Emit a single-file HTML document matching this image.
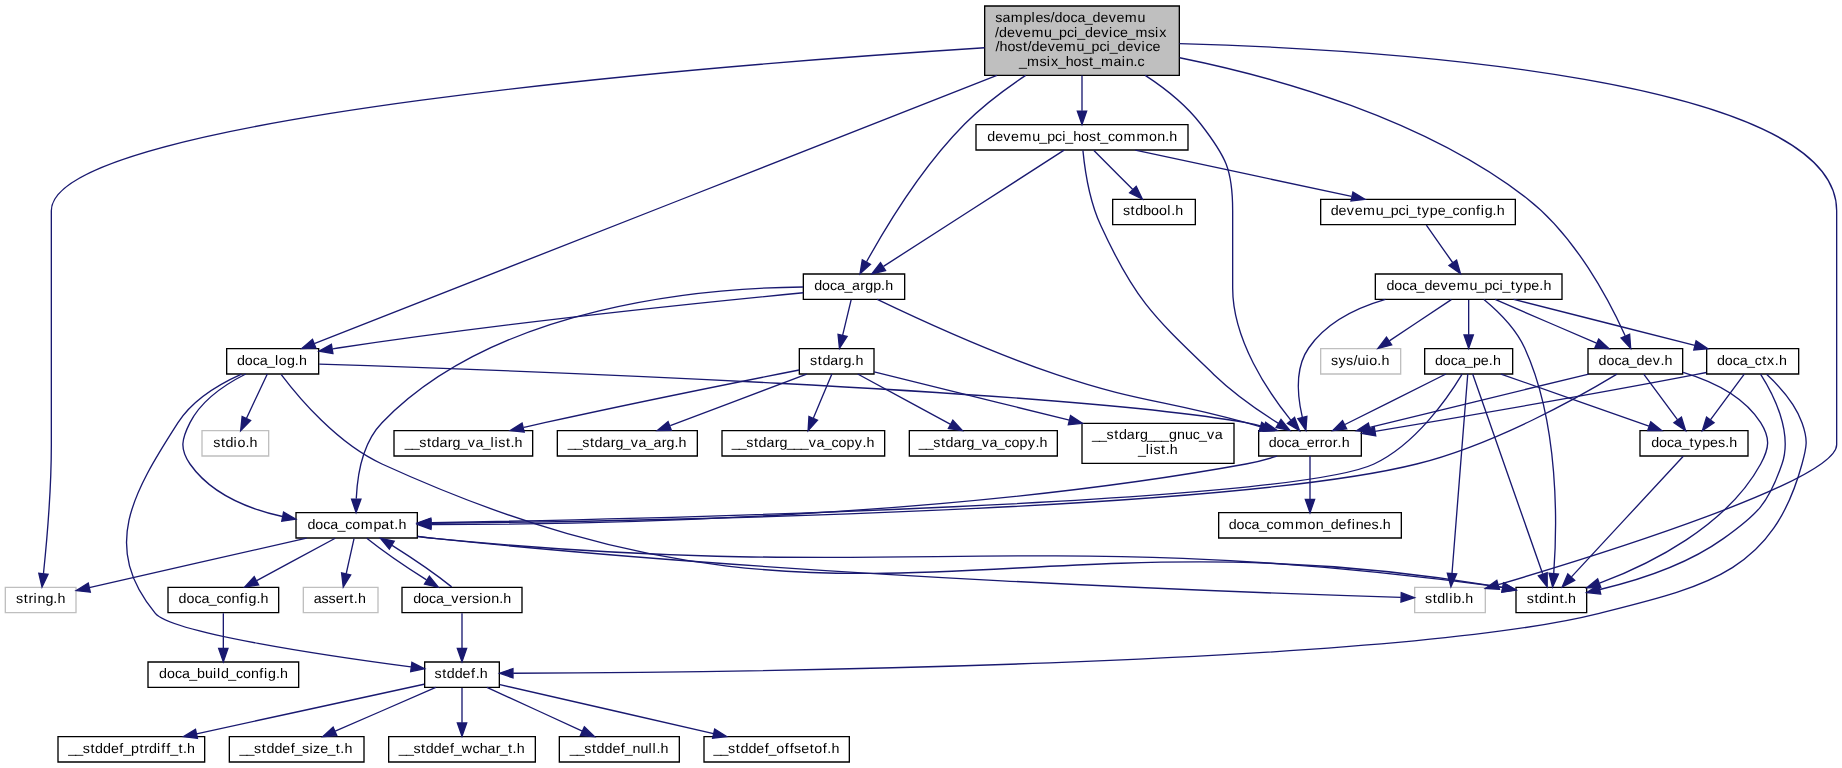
<!DOCTYPE html>
<html><head><meta charset="utf-8"><title>Include dependency graph</title>
<style>
html,body{margin:0;padding:0;background:#fff;}
body{width:1842px;height:768px;overflow:hidden;}
svg{display:block;will-change:transform;}
text{font-family:"Liberation Sans",sans-serif;font-size:10.3px;text-rendering:geometricPrecision;fill:#000;}
.e path{fill:none;stroke:#191970;stroke-width:1.0}
.e polygon{fill:#191970;stroke:#191970;stroke-width:1.0}
.n polygon{stroke-width:1.0}
</style></head><body>
<svg width="1842" height="768" viewBox="0 0 1381.5 576">
<rect x="0" y="0" width="1381.5" height="576" fill="#fff"/>
<g transform="translate(4 572)">
<g class="n"><polygon fill="#bfbfbf" stroke="black" points="734.5,-515.5 734.5,-567.5 880.5,-567.5 880.5,-515.5 734.5,-515.5"/><text transform="scale(1.0400 1)" x="713.87 719.07 725.15 734.32 740.10 742.88 748.49 753.79 756.68 762.34 768.10 773.16 778.41 784.08 789.76 795.70 801.30 807.36 816.53" y="-555.50">samples/doca_devemu</text><text transform="scale(1.0400 1)" x="713.77 716.65 722.33 728.27 733.87 739.94 749.10 754.25 759.92 765.57 770.74 773.00 778.67 784.35 790.29 795.98 798.75 803.82 809.05 814.94 823.85 829.16 832.12" y="-544.50">/devemu_pci_device_msix</text><text transform="scale(1.0400 1)" x="714.13 717.01 722.67 728.30 733.87 737.21 740.09 745.77 751.71 757.31 763.37 772.54 777.68 783.36 789.01 794.18 796.43 802.11 807.79 813.73 819.42 822.18 827.26" y="-533.50">/host/devemu_pci_device</text><text transform="scale(1.0400 1)" x="730.93 736.81 745.72 751.03 754.00 759.05 764.73 770.39 776.01 781.58 784.30 790.18 799.24 805.12 808.00 813.68 816.53" y="-522.50">_msix_host_main.c</text></g>
<g class="n"><polygon fill="white" stroke="#bfbfbf" points="1057,-112.5 1057,-131.5 1110,-131.5 1110,-112.5 1057,-112.5"/><text transform="scale(1.0400 1)" x="1023.73 1029.30 1032.64 1038.41 1041.30 1044.18 1049.86 1052.83" y="-119.50">stdlib.h</text></g>
<g class="e"><path d="M880.62,-539.34C1033.63,-534.92 1373.5,-513.87 1373.5,-414 1373.5,-414 1373.5,-414 1373.5,-238.5 1373.5,-211.5 1197.73,-156.54 1119.87,-133.51"/><polygon points="1120.59,-130.07 1110,-130.61 1118.61,-136.79 1120.59,-130.07"/></g>
<g class="n"><polygon fill="white" stroke="#bfbfbf" points="0,-112.5 0,-131.5 53,-131.5 53,-112.5 0,-112.5"/><text transform="scale(1.0400 1)" x="7.74 13.31 16.73 20.26 23.14 28.91 34.59 37.56" y="-119.50">string.h</text></g>
<g class="e"><path d="M734.43,-536.17C541.74,-523.79 34.5,-484.5 34.5,-414 34.5,-414 34.5,-414 34.5,-238.5 34.5,-204.28 30.96,-164.5 28.59,-141.68"/><polygon points="32.07,-141.25 27.51,-131.68 25.11,-142 32.07,-141.25"/></g>
<g class="n"><polygon fill="white" stroke="black" points="598.5,-347.5 598.5,-366.5 674.5,-366.5 674.5,-347.5 598.5,-347.5"/><text transform="scale(1.0400 1)" x="583.36 589.02 594.78 599.84 605.09 610.66 616.61 620.14 625.91 631.59 634.56" y="-354.50">doca_argp.h</text></g>
<g class="e"><path d="M765.26,-515.47C749.9,-505.25 733.02,-492.63 719.5,-479 687.5,-446.72 659.79,-400.66 645.93,-375.71"/><polygon points="648.88,-373.8 641.02,-366.69 642.73,-377.14 648.88,-373.8"/></g>
<g class="n"><polygon fill="white" stroke="black" points="940,-230 940,-249 1017,-249 1017,-230 940,-230"/><text transform="scale(1.0400 1)" x="911.13 916.78 922.54 927.61 932.85 938.44 944.37 947.98 951.40 957.35 960.79 963.76" y="-237.00">doca_error.h</text></g>
<g class="e"><path d="M854.92,-515.45C869.85,-505.71 885.33,-493.39 896.5,-479 915.38,-454.67 920.5,-444.8 920.5,-414 920.5,-414 920.5,-414 920.5,-356 920.5,-317.15 947.03,-278.02 964.21,-256.76"/><polygon points="966.94,-258.95 970.68,-249.03 961.57,-254.45 966.94,-258.95"/></g>
<g class="n"><polygon fill="white" stroke="black" points="166,-291.5 166,-310.5 235,-310.5 235,-291.5 166,-291.5"/><text transform="scale(1.0400 1)" x="167.01 172.67 178.43 183.50 188.74 194.42 197.19 203.07 208.75 211.72" y="-298.50">doca_log.h</text></g>
<g class="e"><path d="M743.69,-515.43C614.63,-464.72 326.82,-351.63 231.69,-314.25"/><polygon points="232.92,-310.98 222.33,-310.58 230.36,-317.49 232.92,-310.98"/></g>
<g class="n"><polygon fill="white" stroke="black" points="1187,-291.5 1187,-310.5 1258,-310.5 1258,-291.5 1187,-291.5"/><text transform="scale(1.0400 1)" x="1148.99 1154.64 1160.40 1165.47 1170.71 1176.39 1182.06 1188.01 1193.61 1196.58" y="-298.50">doca_dev.h</text></g>
<g class="e"><path d="M880.73,-528.68C953.09,-514 1063.9,-483.17 1141.5,-423 1177.49,-395.09 1202.95,-346.53 1214.86,-320.21"/><polygon points="1218.22,-321.28 1219.01,-310.71 1211.8,-318.48 1218.22,-321.28"/></g>
<g class="n"><polygon fill="white" stroke="black" points="728,-459.5 728,-478.5 887,-478.5 887,-459.5 728,-459.5"/><text transform="scale(1.0400 1)" x="708.12 713.80 719.74 725.33 731.40 740.57 745.71 751.39 757.04 762.21 764.46 770.13 775.80 781.42 786.99 789.70 795.26 800.32 806.40 815.78 824.84 830.71 836.40 839.37" y="-466.50">devemu_pci_host_common.h</text></g>
<g class="e"><path d="M807.5,-515.45C807.5,-506.73 807.5,-497.1 807.5,-488.96"/><polygon points="811,-488.7 807.5,-478.7 804,-488.7 811,-488.7"/></g>
<g class="n"><polygon fill="white" stroke="black" points="595.5,-291.5 595.5,-310.5 651.5,-310.5 651.5,-291.5 595.5,-291.5"/><text transform="scale(1.0400 1)" x="580.34 585.91 589.25 594.91 600.86 604.39 610.07 613.04" y="-298.50">stdarg.h</text></g>
<g class="e"><path d="M634.35,-347.08C632.63,-339.93 630.15,-329.64 628,-320.69"/><polygon points="631.35,-319.65 625.61,-310.75 624.54,-321.29 631.35,-319.65"/></g>
<g class="n"><polygon fill="white" stroke="black" points="218,-168.5 218,-187.5 309,-187.5 309,-168.5 218,-168.5"/><text transform="scale(1.0400 1)" x="217.86 223.51 229.28 234.34 239.58 245.14 250.20 256.28 265.45 271.12 277.26 280.51 283.48" y="-175.50">doca_compat.h</text></g>
<g class="e"><path d="M598.32,-356.77C525.92,-356.04 368.27,-343.65 282.5,-255 267.82,-239.83 263.96,-215.13 263.19,-198.02"/><polygon points="266.69,-197.56 263.06,-187.6 259.69,-197.64 266.69,-197.56"/></g>
<g class="e"><path d="M653.94,-347.48C681.84,-334.1 738.48,-307.92 788.5,-291 850.17,-270.14 867.77,-272.42 930.5,-255 933.92,-254.05 937.46,-253.04 941.01,-252"/><polygon points="942.3,-255.27 950.9,-249.07 940.31,-248.56 942.3,-255.27"/></g>
<g class="e"><path d="M598.49,-352.42C529.01,-345.69 376.93,-330.09 249.5,-311 248.2,-310.81 246.88,-310.6 245.55,-310.39"/><polygon points="245.69,-306.87 235.25,-308.68 244.54,-313.77 245.69,-306.87"/></g>
<g class="n"><polygon fill="white" stroke="black" points="807.5,-224.5 807.5,-254.5 921.5,-254.5 921.5,-224.5 807.5,-224.5"/><text transform="scale(1.0400 1)" x="783.69 788.74 794.16 799.73 803.07 808.74 814.68 818.22 823.36 828.41 833.45 839.13 844.89 850.66 856.32 860.86 866.62 872.20" y="-242.50">__stdarg___gnuc_va</text><text transform="scale(1.0400 1)" x="816.75 822.43 825.31 827.93 833.51 836.76 839.73" y="-231.50">_list.h</text></g>
<g class="e"><path d="M651.62,-293.06C687.28,-284.25 749.92,-268.79 798.05,-256.91"/><polygon points="798.91,-260.3 807.78,-254.5 797.23,-253.5 798.91,-260.3"/></g>
<g class="n"><polygon fill="white" stroke="black" points="291.5,-230 291.5,-249 395.5,-249 395.5,-230 291.5,-230"/><text transform="scale(1.0400 1)" x="288.02 293.07 298.49 304.06 307.40 313.06 319.01 322.54 327.68 333.44 339.02 344.27 349.95 352.84 355.46 361.03 364.28 367.25" y="-237.00">__stdarg_va_list.h</text></g>
<g class="e"><path d="M595.44,-294.52C553.72,-286.31 472.9,-270.15 404.5,-255 399.38,-253.87 394.03,-252.65 388.72,-251.41"/><polygon points="389.15,-247.92 378.62,-249.04 387.55,-254.73 389.15,-247.92"/></g>
<g class="n"><polygon fill="white" stroke="black" points="414,-230 414,-249 519,-249 519,-230 414,-230"/><text transform="scale(1.0400 1)" x="405.57 410.62 416.04 421.61 424.95 430.61 436.56 440.09 445.23 450.99 456.57 461.82 467.39 473.34 476.87 482.55 485.52" y="-237.00">__stdarg_va_arg.h</text></g>
<g class="e"><path d="M601.01,-291.48C574.19,-281.31 529.18,-264.26 498.69,-252.7"/><polygon points="499.54,-249.28 488.95,-249.01 497.06,-255.83 499.54,-249.28"/></g>
<g class="n"><polygon fill="white" stroke="black" points="537.5,-230 537.5,-249 659.5,-249 659.5,-230 537.5,-230"/><text transform="scale(1.0400 1)" x="523.84 528.89 534.30 539.88 543.22 548.88 554.83 558.36 563.50 568.55 573.60 579.36 584.94 590.18 595.74 600.80 606.68 612.53 618.13 621.10" y="-237.00">__stdarg___va_copy.h</text></g>
<g class="e"><path d="M619.92,-291.48C616.32,-282.9 610.65,-269.43 606.06,-258.48"/><polygon points="609.18,-256.87 602.08,-249.01 602.72,-259.58 609.18,-256.87"/></g>
<g class="n"><polygon fill="white" stroke="black" points="678,-230 678,-249 789,-249 789,-230 678,-230"/><text transform="scale(1.0400 1)" x="658.69 663.74 669.16 674.73 678.07 683.74 689.68 693.22 698.36 704.12 709.70 714.94 720.50 725.56 731.44 737.29 742.89 745.86" y="-237.00">__stdarg_va_copy.h</text></g>
<g class="e"><path d="M639.26,-291.48C657.48,-281.62 687.67,-265.29 708.97,-253.77"/><polygon points="710.64,-256.85 717.77,-249.01 707.31,-250.69 710.64,-256.85"/></g>
<g class="e"><path d="M309.31,-169.7C314.09,-169.06 318.89,-168.48 323.5,-168 600.53,-139.08 936.46,-127.28 1046.6,-124.01"/><polygon points="1046.95,-127.5 1056.84,-123.71 1046.74,-120.51 1046.95,-127.5"/></g>
<g class="e"><path d="M225.95,-168.44C181.26,-158.26 107.17,-141.38 62.97,-131.31"/><polygon points="63.74,-127.9 53.21,-129.09 62.19,-134.72 63.74,-127.9"/></g>
<g class="n"><polygon fill="white" stroke="#bfbfbf" points="223.5,-112.5 223.5,-131.5 279.5,-131.5 279.5,-112.5 223.5,-112.5"/><text transform="scale(1.0400 1)" x="222.44 228.05 233.10 238.31 244.25 248.05 251.30 254.27" y="-119.50">assert.h</text></g>
<g class="e"><path d="M261.52,-168.08C259.93,-160.93 257.64,-150.64 255.65,-141.69"/><polygon points="259.03,-140.75 253.44,-131.75 252.2,-142.27 259.03,-140.75"/></g>
<g class="n"><polygon fill="white" stroke="black" points="122,-112.5 122,-131.5 205,-131.5 205,-112.5 122,-112.5"/><text transform="scale(1.0400 1)" x="124.95 130.61 136.37 141.43 146.68 152.23 157.29 163.16 169.10 172.55 175.43 181.11 184.08" y="-119.50">doca_config.h</text></g>
<g class="e"><path d="M247.43,-168.32C231.54,-159.74 206.99,-146.49 188.54,-136.52"/><polygon points="189.99,-133.33 179.53,-131.65 186.66,-139.49 189.99,-133.33"/></g>
<g class="n"><polygon fill="white" stroke="black" points="1133,-112.5 1133,-131.5 1186,-131.5 1186,-112.5 1133,-112.5"/><text transform="scale(1.0400 1)" x="1097.17 1102.74 1106.08 1111.85 1114.73 1120.77 1124.02 1126.99" y="-119.50">stdint.h</text></g>
<g class="e"><path d="M309.3,-169.63C314.09,-169.01 318.89,-168.45 323.5,-168 675.97,-133.69 768.5,-179.05 1119.5,-132 1120.59,-131.85 1121.7,-131.69 1122.82,-131.52"/><polygon points="1123.73,-134.91 1132.94,-129.66 1122.47,-128.02 1123.73,-134.91"/></g>
<g class="n"><polygon fill="white" stroke="black" points="297.5,-112.5 297.5,-131.5 387.5,-131.5 387.5,-112.5 297.5,-112.5"/><text transform="scale(1.0400 1)" x="294.18 299.84 305.60 310.66 315.91 321.66 327.26 333.19 336.47 341.78 344.55 350.42 356.11 359.08" y="-119.50">doca_version.h</text></g>
<g class="e"><path d="M271.08,-168.32C281.58,-159.9 300.19,-146.97 315.9,-137.07"/><polygon points="318.04,-139.87 324.73,-131.65 314.38,-133.9 318.04,-139.87"/></g>
<g class="n"><polygon fill="white" stroke="black" points="107,-56.5 107,-75.5 220,-75.5 220,-56.5 107,-56.5"/><text transform="scale(1.0400 1)" x="110.88 116.54 122.30 127.37 132.61 138.29 144.05 149.83 152.72 155.60 160.74 166.29 171.35 177.23 183.16 186.61 189.49 195.17 198.14" y="-63.50">doca_build_config.h</text></g>
<g class="e"><path d="M163.5,-112.08C163.5,-105.01 163.5,-94.86 163.5,-85.99"/><polygon points="167,-85.75 163.5,-75.75 160,-85.75 167,-85.75"/></g>
<g class="e"><path d="M334.73,-131.83C324.19,-140.26 305.7,-153.1 290.08,-162.94"/><polygon points="288,-160.11 281.31,-168.32 291.66,-166.07 288,-160.11"/></g>
<g class="n"><polygon fill="white" stroke="black" points="314.5,-56.5 314.5,-75.5 370.5,-75.5 370.5,-56.5 314.5,-56.5"/><text transform="scale(1.0400 1)" x="309.42 315.00 318.34 324.11 329.78 335.80 339.16 342.13" y="-63.50">stddef.h</text></g>
<g class="e"><path d="M342.5,-112.08C342.5,-105.01 342.5,-94.86 342.5,-85.99"/><polygon points="346,-85.75 342.5,-75.75 339,-85.75 346,-85.75"/></g>
<g class="n"><polygon fill="white" stroke="black" points="39.5,-0.5 39.5,-19.5 149.5,-19.5 149.5,-0.5 39.5,-0.5"/><text transform="scale(1.0400 1)" x="45.35 50.40 55.82 61.39 64.73 70.50 76.18 82.20 85.02 90.69 96.73 100.14 103.67 109.45 112.49 116.09 118.91 124.85 128.10 131.07" y="-7.50">__stddef_ptrdiff_t.h</text></g>
<g class="e"><path d="M314.05,-58.81C272.42,-49.74 194.34,-32.74 143.4,-21.65"/><polygon points="144.1,-18.22 133.59,-19.51 142.61,-25.06 144.1,-18.22"/></g>
<g class="n"><polygon fill="white" stroke="black" points="168,-0.5 168,-19.5 269,-19.5 269,-0.5 168,-0.5"/><text transform="scale(1.0400 1)" x="168.91 173.96 179.38 184.95 188.29 194.06 199.73 205.75 208.57 213.99 219.30 221.94 227.14 232.37 238.31 241.56 244.53" y="-7.50">__stddef_size_t.h</text></g>
<g class="e"><path d="M322.85,-56.44C302.54,-47.6 270.6,-33.69 247.4,-23.59"/><polygon points="248.62,-20.3 238.06,-19.52 245.83,-26.72 248.62,-20.3"/></g>
<g class="n"><polygon fill="white" stroke="black" points="287.5,-0.5 287.5,-19.5 397.5,-19.5 397.5,-0.5 287.5,-0.5"/><text transform="scale(1.0400 1)" x="283.81 288.86 294.28 299.85 303.19 308.96 314.64 320.66 323.48 329.17 336.97 342.13 347.80 353.75 356.65 362.59 365.84 368.81" y="-7.50">__stddef_wchar_t.h</text></g>
<g class="e"><path d="M342.5,-56.08C342.5,-49.01 342.5,-38.86 342.5,-29.99"/><polygon points="346,-29.75 342.5,-19.75 339,-29.75 346,-29.75"/></g>
<g class="n"><polygon fill="white" stroke="black" points="415.5,-0.5 415.5,-19.5 505.5,-19.5 505.5,-0.5 415.5,-0.5"/><text transform="scale(1.0400 1)" x="407.01 412.06 417.48 423.05 426.39 432.16 437.83 443.86 446.68 452.35 458.12 463.89 466.78 469.57 472.54" y="-7.50">__stddef_null.h</text></g>
<g class="e"><path d="M361.2,-56.44C380.44,-47.64 410.65,-33.81 432.7,-23.72"/><polygon points="434.25,-26.86 441.89,-19.52 431.34,-20.5 434.25,-26.86"/></g>
<g class="n"><polygon fill="white" stroke="black" points="524,-0.5 524,-19.5 633,-19.5 633,-0.5 524,-0.5"/><text transform="scale(1.0400 1)" x="510.74 515.79 521.20 526.78 530.12 535.88 541.56 547.58 550.40 555.97 562.00 565.61 568.80 574.01 580.14 583.37 589.41 592.77 595.74" y="-7.50">__stddef_offsetof.h</text></g>
<g class="e"><path d="M370.97,-58.49C410.68,-49.4 483.22,-32.8 531.15,-21.83"/><polygon points="532.02,-25.23 540.99,-19.58 530.46,-18.4 532.02,-25.23"/></g>
<g class="e"><path d="M953.85,-229.89C946.43,-227.61 938.21,-225.41 930.5,-224 706.84,-183.22 434.93,-178.5 319.57,-178.53"/><polygon points="319.22,-175.03 309.23,-178.55 319.23,-182.03 319.22,-175.03"/></g>
<g class="n"><polygon fill="white" stroke="black" points="910,-168.5 910,-187.5 1047,-187.5 1047,-168.5 910,-168.5"/><text transform="scale(1.0400 1)" x="882.28 887.94 893.70 898.76 904.01 909.56 914.62 920.71 930.08 939.14 945.01 950.16 955.84 961.51 967.53 970.98 973.86 979.54 985.15 990.36 993.33" y="-175.50">doca_common_defines.h</text></g>
<g class="e"><path d="M978.5,-229.98C978.5,-221.58 978.5,-208.48 978.5,-197.66"/><polygon points="982,-197.51 978.5,-187.51 975,-197.51 982,-197.51"/></g>
<g class="e"><path d="M180.28,-291.49C165.73,-284.17 147.2,-272.06 138.5,-255 132.24,-242.73 130.58,-235.27 138.5,-224 154.25,-201.59 182.28,-190.29 207.81,-184.61"/><polygon points="208.68,-188.01 217.81,-182.64 207.32,-181.14 208.68,-188.01"/></g>
<g class="e"><path d="M206.96,-291.03C219.43,-274.49 248.6,-239.48 282.5,-224 622.91,-68.51 750.37,-193.62 1119.5,-132 1120.59,-131.82 1121.69,-131.63 1122.8,-131.42"/><polygon points="1123.77,-134.8 1132.9,-129.42 1122.41,-127.93 1123.77,-134.8"/></g>
<g class="e"><path d="M177.13,-291.39C161.04,-284.2 140.63,-272.31 129.5,-255 94.87,-201.17 71.82,-161.41 112.5,-112 124.6,-97.3 241.96,-80.04 304.19,-71.82"/><polygon points="304.94,-75.25 314.4,-70.49 304.03,-68.31 304.94,-75.25"/></g>
<g class="e"><path d="M235.41,-298.92C361.68,-294.85 794.43,-279.41 930.5,-255 934.96,-254.2 939.59,-253.13 944.13,-251.92"/><polygon points="945.2,-255.26 953.85,-249.14 943.28,-248.53 945.2,-255.26"/></g>
<g class="n"><polygon fill="white" stroke="#bfbfbf" points="147.5,-230 147.5,-249 197.5,-249 197.5,-230 147.5,-230"/><text transform="scale(1.0400 1)" x="149.93 155.50 158.84 164.61 167.38 173.17 176.14" y="-237.00">stdio.h</text></g>
<g class="e"><path d="M196.49,-291.48C192.41,-282.82 185.98,-269.15 180.8,-258.15"/><polygon points="183.93,-256.57 176.5,-249.01 177.6,-259.55 183.93,-256.57"/></g>
<g class="e"><path d="M1208.69,-291.39C1181.29,-274.8 1117.56,-238.78 1058.5,-224 918.23,-188.89 476.34,-181.11 319.44,-179.44"/><polygon points="319.12,-175.94 309.09,-179.34 319.05,-182.94 319.12,-175.94"/></g>
<g class="e"><path d="M1258.34,-292.78C1279.18,-286.54 1303.77,-275.21 1316.5,-255 1323.84,-243.34 1323.1,-236.09 1316.5,-224 1290.99,-177.25 1233.54,-148.91 1195.67,-134.6"/><polygon points="1196.62,-131.22 1186.02,-131.09 1194.23,-137.8 1196.62,-131.22"/></g>
<g class="e"><path d="M1187.54,-291.48C1144.33,-280.94 1070.71,-262.99 1023.37,-251.44"/><polygon points="1023.94,-247.98 1013.39,-249.01 1022.28,-254.78 1023.94,-247.98"/></g>
<g class="n"><polygon fill="white" stroke="black" points="1226,-230 1226,-249 1307,-249 1307,-230 1226,-230"/><text transform="scale(1.0400 1)" x="1186.97 1192.63 1198.39 1203.45 1208.69 1214.64 1218.06 1223.75 1229.42 1235.03 1240.24 1243.21" y="-237.00">doca_types.h</text></g>
<g class="e"><path d="M1228.8,-291.48C1235.4,-282.55 1245.94,-268.31 1254.19,-257.14"/><polygon points="1257.08,-259.13 1260.21,-249.01 1251.45,-254.97 1257.08,-259.13"/></g>
<g class="e"><path d="M1258.46,-229.82C1240.64,-210.59 1197.61,-164.14 1174.61,-139.31"/><polygon points="1177,-136.74 1167.64,-131.78 1171.86,-141.5 1177,-136.74"/></g>
<g class="e"><path d="M794.08,-459.37C764.74,-440.49 694.62,-395.38 658.63,-372.24"/><polygon points="660.16,-369.06 649.86,-366.59 656.37,-374.95 660.16,-369.06"/></g>
<g class="e"><path d="M808.18,-459.21C809.43,-446.35 812.83,-421.88 821.5,-403 847.59,-346.22 861.49,-334.35 906.5,-291 921.16,-276.88 940.08,-263.77 954.85,-254.45"/><polygon points="956.75,-257.38 963.43,-249.16 953.08,-251.42 956.75,-257.38"/></g>
<g class="n"><polygon fill="white" stroke="black" points="830.5,-403.5 830.5,-422.5 892.5,-422.5 892.5,-403.5 830.5,-403.5"/><text transform="scale(1.0400 1)" x="805.94 811.51 814.85 820.62 826.28 832.05 837.93 840.72 843.69" y="-410.50">stdbool.h</text></g>
<g class="e"><path d="M816.42,-459.08C824.28,-451.22 835.93,-439.57 845.42,-430.08"/><polygon points="848.15,-432.3 852.75,-422.75 843.2,-427.35 848.15,-432.3"/></g>
<g class="n"><polygon fill="white" stroke="black" points="986.5,-403.5 986.5,-422.5 1132.5,-422.5 1132.5,-403.5 986.5,-403.5"/><text transform="scale(1.0400 1)" x="955.84 961.51 967.46 973.05 979.12 988.28 993.43 999.11 1004.76 1009.93 1012.18 1018.12 1021.54 1027.23 1032.91 1038.14 1043.70 1048.76 1054.63 1060.56 1064.01 1066.89 1072.57 1075.54" y="-410.50">devemu_pci_type_config.h</text></g>
<g class="e"><path d="M847.43,-459.44C891.39,-450.02 962.13,-434.87 1009.68,-424.68"/><polygon points="1010.71,-428.03 1019.76,-422.52 1009.25,-421.19 1010.71,-428.03"/></g>
<g class="n"><polygon fill="white" stroke="black" points="1027.5,-347.5 1027.5,-366.5 1167.5,-366.5 1167.5,-347.5 1027.5,-347.5"/><text transform="scale(1.0400 1)" x="995.98 1001.64 1007.40 1012.46 1017.71 1023.38 1029.06 1035.01 1040.60 1046.67 1055.83 1060.98 1066.65 1072.30 1077.48 1079.73 1085.67 1089.09 1094.78 1100.45 1106.23 1109.20" y="-354.50">doca_devemu_pci_type.h</text></g>
<g class="e"><path d="M1065.77,-403.08C1071.14,-395.46 1079.02,-384.26 1085.58,-374.94"/><polygon points="1088.45,-376.94 1091.34,-366.75 1082.72,-372.91 1088.45,-376.94"/></g>
<g class="e"><path d="M1108.93,-347.39C1118.85,-339.21 1132.66,-325.97 1139.5,-311 1165.6,-253.87 1163.85,-177.1 1161.31,-141.97"/><polygon points="1164.78,-141.42 1160.46,-131.75 1157.8,-142 1164.78,-141.42"/></g>
<g class="e"><path d="M1035.08,-347.45C1013.17,-341.12 990.74,-330.11 977.5,-311 967.06,-295.94 969.17,-274.39 972.73,-259.09"/><polygon points="976.16,-259.8 975.41,-249.23 969.4,-257.96 976.16,-259.8"/></g>
<g class="e"><path d="M1117.31,-347.44C1137.79,-338.6 1169.98,-324.69 1193.36,-314.59"/><polygon points="1194.99,-317.7 1202.79,-310.52 1192.22,-311.27 1194.99,-317.7"/></g>
<g class="n"><polygon fill="white" stroke="#bfbfbf" points="986.5,-291.5 986.5,-310.5 1046.5,-310.5 1046.5,-291.5 986.5,-291.5"/><text transform="scale(1.0400 1)" x="956.06 961.45 966.88 972.18 975.06 980.84 983.61 989.40 992.37" y="-298.50">sys/uio.h</text></g>
<g class="e"><path d="M1084.49,-347.32C1071.97,-338.98 1052.82,-326.21 1038.03,-316.35"/><polygon points="1039.74,-313.29 1029.48,-310.65 1035.86,-319.11 1039.74,-313.29"/></g>
<g class="n"><polygon fill="white" stroke="black" points="1276,-291.5 1276,-310.5 1345,-310.5 1345,-291.5 1276,-291.5"/><text transform="scale(1.0400 1)" x="1234.32 1239.98 1245.74 1250.80 1256.05 1261.61 1267.04 1270.46 1276.06 1279.03" y="-298.50">doca_ctx.h</text></g>
<g class="e"><path d="M1131.25,-347.44C1168.02,-338.12 1226.95,-323.18 1267.12,-313"/><polygon points="1268.07,-316.37 1276.91,-310.52 1266.35,-309.58 1268.07,-316.37"/></g>
<g class="n"><polygon fill="white" stroke="black" points="1064.5,-291.5 1064.5,-310.5 1130.5,-310.5 1130.5,-291.5 1064.5,-291.5"/><text transform="scale(1.0400 1)" x="1030.96 1036.62 1042.38 1047.44 1052.68 1058.36 1064.04 1069.81 1072.78" y="-298.50">doca_pe.h</text></g>
<g class="e"><path d="M1097.5,-347.08C1097.5,-340.01 1097.5,-329.86 1097.5,-320.99"/><polygon points="1101,-320.75 1097.5,-310.75 1094,-320.75 1101,-320.75"/></g>
<g class="e"><path d="M1316.41,-291.48C1325.45,-277.32 1340.85,-248.15 1332.5,-224 1322.15,-194.09 1314.26,-186.4 1288.5,-168 1260.69,-148.14 1223.32,-136.38 1195.96,-129.89"/><polygon points="1196.53,-126.43 1186,-127.66 1194.99,-133.26 1196.53,-126.43"/></g>
<g class="e"><path d="M1320.94,-291.24C1329.92,-282.97 1342.25,-269.66 1347.5,-255 1352.15,-242.03 1351.13,-237.29 1347.5,-224 1325.42,-143.04 1276.88,-132.46 1195.5,-112 1038,-72.41 525.64,-67.62 380.9,-67.07"/><polygon points="380.75,-63.57 370.73,-67.03 380.72,-70.57 380.75,-63.57"/></g>
<g class="e"><path d="M1275.79,-292.63C1272.98,-292.07 1270.2,-291.52 1267.5,-291 1183.27,-274.83 1084.81,-258.08 1027.28,-248.51"/><polygon points="1027.81,-245.05 1017.37,-246.87 1026.67,-251.96 1027.81,-245.05"/></g>
<g class="e"><path d="M1304.2,-291.48C1297.6,-282.55 1287.06,-268.31 1278.81,-257.14"/><polygon points="1281.55,-254.97 1272.79,-249.01 1275.92,-259.13 1281.55,-254.97"/></g>
<g class="e"><path d="M1096.82,-291.46C1094.69,-264.43 1088.03,-180.24 1085.01,-142.11"/><polygon points="1088.48,-141.56 1084.2,-131.87 1081.5,-142.11 1088.48,-141.56"/></g>
<g class="e"><path d="M1092.6,-291.41C1082.63,-274.86 1058.21,-238.89 1026.5,-224 963.07,-194.21 484.82,-182.94 319.51,-179.91"/><polygon points="319.14,-176.41 309.08,-179.73 319.02,-183.41 319.14,-176.41"/></g>
<g class="e"><path d="M1100.49,-291.46C1110,-264.31 1139.7,-179.51 1152.98,-141.62"/><polygon points="1156.39,-142.46 1156.39,-131.87 1149.78,-140.15 1156.39,-142.46"/></g>
<g class="e"><path d="M1080.45,-291.48C1060.66,-281.58 1027.78,-265.14 1004.73,-253.62"/><polygon points="1006.03,-250.35 995.52,-249.01 1002.9,-256.61 1006.03,-250.35"/></g>
<g class="e"><path d="M1121.71,-291.48C1150.83,-281.22 1199.87,-263.96 1232.7,-252.4"/><polygon points="1234.06,-255.63 1242.33,-249.01 1231.74,-249.03 1234.06,-255.63"/></g>
</g>
</svg>
</body></html>
